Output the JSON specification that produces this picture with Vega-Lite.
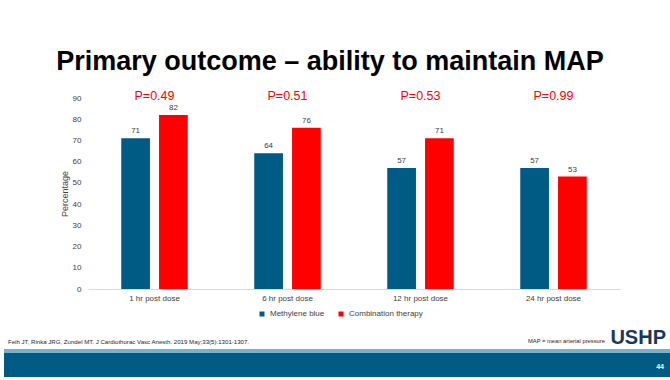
{
  "$schema": "https://vega.github.io/schema/vega-lite/v6.json",
  "background": "white",
  "padding": {"left": 4, "top": 48, "right": 0, "bottom": 0},
  "title": {"text": "Primary outcome – ability to maintain MAP", "font": "Liberation Sans", "fontSize": 27, "fontWeight": "bold", "color": "#000000", "anchor": "middle", "offset": 14, "dx": -7},
  "datasets": {
    "outcome": [
      {"time": "1 hr post dose", "group": "Methylene blue", "percent": 71},
      {"time": "1 hr post dose", "group": "Combination therapy", "percent": 82},
      {"time": "6 hr post dose", "group": "Methylene blue", "percent": 64},
      {"time": "6 hr post dose", "group": "Combination therapy", "percent": 76},
      {"time": "12 hr post dose", "group": "Methylene blue", "percent": 57},
      {"time": "12 hr post dose", "group": "Combination therapy", "percent": 71},
      {"time": "24 hr post dose", "group": "Methylene blue", "percent": 57},
      {"time": "24 hr post dose", "group": "Combination therapy", "percent": 53}
    ],
    "pvalues": [
      {"time": "1 hr post dose", "label": "P=0.49"},
      {"time": "6 hr post dose", "label": "P=0.51"},
      {"time": "12 hr post dose", "label": "P=0.53"},
      {"time": "24 hr post dose", "label": "P=0.99"}
    ]
  },
  "vconcat": [
    {
      "hconcat": [
        {
          "width": 56,
          "height": 191,
          "data": {"values": [{"spacer": 1}]},
          "mark": {"type": "rect", "opacity": 0},
          "encoding": {}
        },
        {
          "width": 532,
          "height": 191,
          "data": {"name": "outcome"},
          "encoding": {
            "x": {
              "field": "time", "type": "nominal",
              "sort": ["1 hr post dose", "6 hr post dose", "12 hr post dose", "24 hr post dose"],
              "scale": {"paddingInner": 0.5, "paddingOuter": 0.25},
              "axis": {"title": null, "labelAngle": 0, "domainColor": "#d9d9d9", "domainWidth": 1, "ticks": false, "labelPadding": 5, "labelFontSize": 8, "labelColor": "#404040", "grid": false}
            }
          },
          "layer": [
            {
              "mark": {"type": "bar"},
              "encoding": {
                "xOffset": {"field": "group", "type": "nominal", "sort": ["Methylene blue", "Combination therapy"], "scale": {"paddingInner": 0.24, "paddingOuter": 0}},
                "y": {
                  "field": "percent", "type": "quantitative",
                  "scale": {"domain": [0, 90], "nice": false},
                  "axis": {"title": "Percentage", "values": [0, 10, 20, 30, 40, 50, 60, 70, 80, 90], "tickCount": 10, "labelOverlap": false, "grid": false, "domain": false, "ticks": false, "labelPadding": 7, "labelFontSize": 8, "labelColor": "#404040", "titleFontSize": 9, "titleFontWeight": "normal", "titleColor": "#404040", "titlePadding": 3}
                },
                "color": {
                  "field": "group", "type": "nominal",
                  "scale": {"domain": ["Methylene blue", "Combination therapy"], "range": ["#005b84", "#ff0000"]},
                  "legend": {"orient": "none", "legendX": 170, "legendY": 212, "direction": "horizontal", "title": null, "symbolType": "square", "symbolSize": 25, "symbolStrokeWidth": 0, "labelFontSize": 8, "labelColor": "#404040", "columnPadding": 12}
                }
              }
            },
            {
              "mark": {"type": "text", "baseline": "bottom", "dy": -3, "fontSize": 8, "color": "#404040"},
              "encoding": {
                "xOffset": {"field": "group", "type": "nominal", "sort": ["Methylene blue", "Combination therapy"]},
                "y": {
                  "field": "percent", "type": "quantitative",
                  "axis": {"title": "Percentage", "values": [0, 10, 20, 30, 40, 50, 60, 70, 80, 90], "tickCount": 10, "labelOverlap": false, "grid": false, "domain": false, "ticks": false, "labelPadding": 7, "labelFontSize": 8, "labelColor": "#404040", "titleFontSize": 9, "titleFontWeight": "normal", "titleColor": "#404040", "titlePadding": 3}
                },
                "text": {"field": "percent", "type": "quantitative"}
              }
            },
            {
              "data": {"name": "pvalues"},
              "mark": {"type": "text", "baseline": "alphabetic", "dy": 2, "fontSize": 12.5, "color": "#ff0000"},
              "encoding": {
                "y": {
                  "datum": 90, "type": "quantitative",
                  "axis": {"title": "Percentage", "values": [0, 10, 20, 30, 40, 50, 60, 70, 80, 90], "tickCount": 10, "labelOverlap": false, "grid": false, "domain": false, "ticks": false, "labelPadding": 7, "labelFontSize": 8, "labelColor": "#404040", "titleFontSize": 9, "titleFontWeight": "normal", "titleColor": "#404040", "titlePadding": 3}
                },
                "text": {"field": "label", "type": "nominal"}
              }
            }
          ]
        }
      ],
      "spacing": 0,
      "bounds": "full",
      "resolve": {"legend": {"color": "independent"}}
    },
    {
      "spacing": 0,
      "vconcat": [
        {
          "width": 666,
          "height": 26,
          "layer": [
            {
              "data": {"values": [{"note": "Feih JT, Rinka JRG, Zundel MT. J Cardiothorac Vasc Anesth. 2019 May;33(5):1301-1307."}]},
              "mark": {"type": "text", "align": "left", "baseline": "middle", "fontSize": 6.1, "color": "#262626"},
              "encoding": {"x": {"value": 4}, "y": {"value": 19}, "text": {"field": "note", "type": "nominal"}}
            },
            {
              "data": {"values": [{"note": "MAP = mean arterial pressure"}]},
              "mark": {"type": "text", "align": "right", "baseline": "middle", "fontSize": 5.8, "color": "#262626"},
              "encoding": {"x": {"value": 601}, "y": {"value": 18}, "text": {"field": "note", "type": "nominal"}}
            },
            {
              "data": {"values": [{"note": "USHP"}]},
              "mark": {"type": "text", "align": "right", "baseline": "alphabetic", "fontSize": 20, "fontWeight": "bold", "color": "#17375e"},
              "encoding": {"x": {"value": 662}, "y": {"value": 21}, "text": {"field": "note", "type": "nominal"}}
            }
          ]
        },
        {
          "width": 666,
          "height": 4,
          "data": {"values": [{"part": "strip"}]},
          "mark": {"type": "rect", "color": "#74b3c9"},
          "encoding": {}
        },
        {
          "width": 666,
          "height": 24,
          "data": {"values": [{"page": "44"}]},
          "layer": [
            {"mark": {"type": "rect", "color": "#005b84"}, "encoding": {}},
            {"mark": {"type": "text", "align": "right", "baseline": "middle", "fontSize": 7, "fontWeight": "bold", "color": "#ffffff"}, "encoding": {"x": {"value": 660}, "y": {"value": 14}, "text": {"field": "page", "type": "nominal"}}}
          ]
        }
      ]
    }
  ],
  "spacing": 5,
  "bounds": "full",
  "resolve": {"legend": {"color": "independent"}},
  "config": {
    "font": "Liberation Sans",
    "view": {"stroke": null}
  }
}
